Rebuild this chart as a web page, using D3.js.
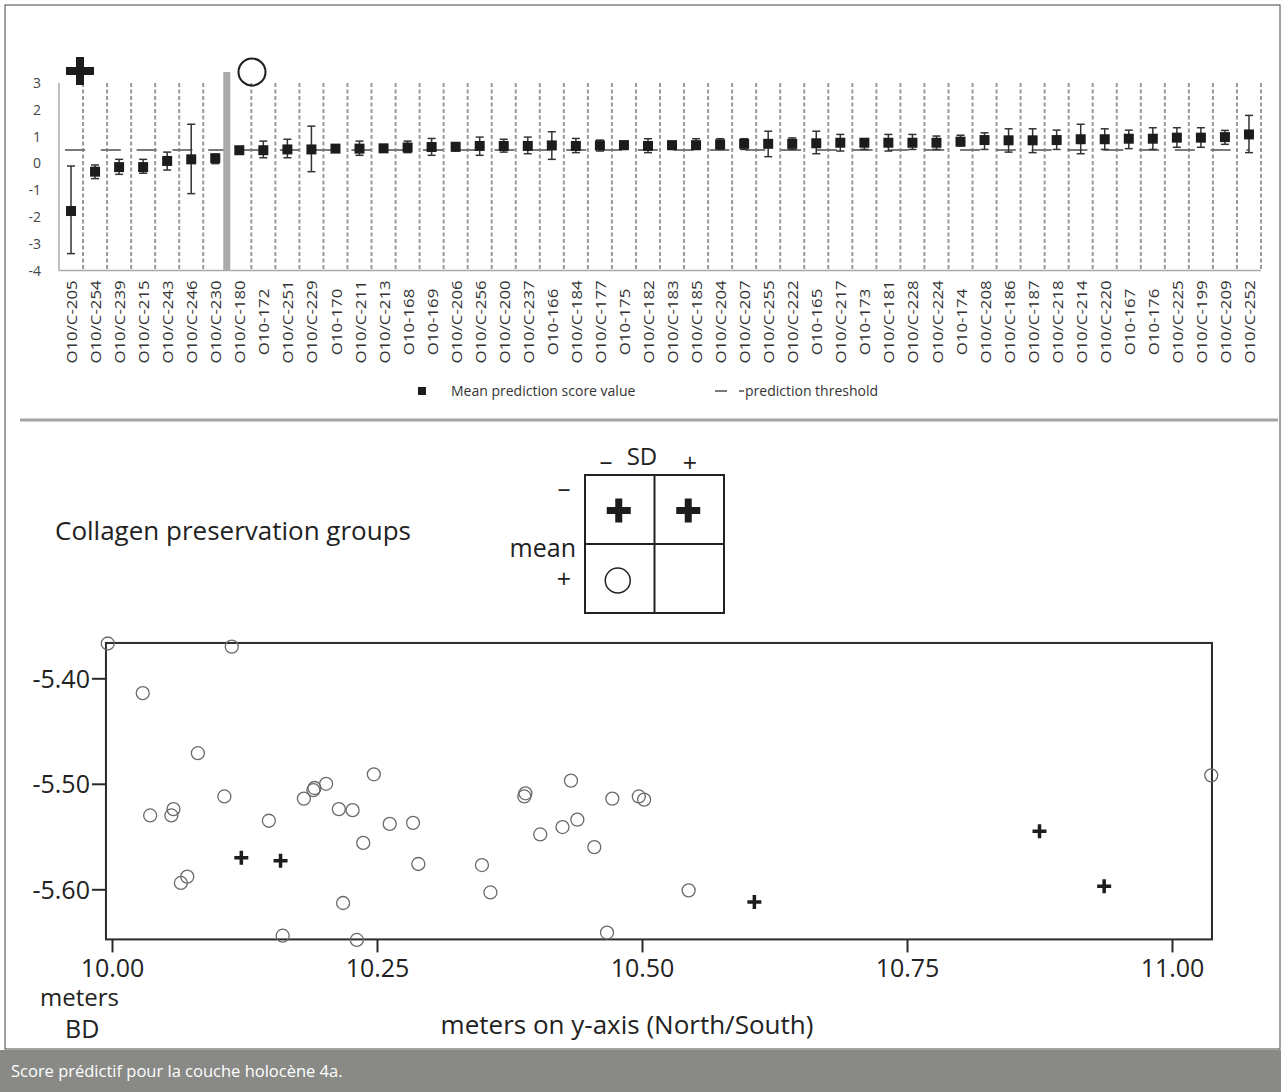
<!DOCTYPE html>
<html>
<head>
<meta charset="utf-8">
<script src="https://cdn.jsdelivr.net/npm/d3@7"></script>
<style>
  body { margin: 0; background: #fff; }
  svg { display: block; }
  text { font-family: "Open Sans", sans-serif; }
</style>
</head>
<body>
<svg width="1281" height="1092"></svg>
<script>
// ---- top chart: prediction score per sample ----
var samples = ["O10/C-205", "O10/C-254", "O10/C-239", "O10/C-215", "O10/C-243", "O10/C-246", "O10/C-230",
    "O10/C-180", "O10-172", "O10/C-251", "O10/C-229", "O10-170", "O10/C-211", "O10/C-213", "O10-168",
    "O10-169", "O10/C-206", "O10/C-256", "O10/C-200", "O10/C-237", "O10-166", "O10/C-184", "O10/C-177",
    "O10-175", "O10/C-182", "O10/C-183", "O10/C-185", "O10/C-204", "O10/C-207", "O10/C-255", "O10/C-222",
    "O10-165", "O10/C-217", "O10-173", "O10/C-181", "O10/C-228", "O10/C-224", "O10-174", "O10/C-208",
    "O10/C-186", "O10/C-187", "O10/C-218", "O10/C-214", "O10/C-220", "O10-167", "O10-176", "O10/C-225",
    "O10/C-199", "O10/C-209", "O10/C-252"];
var meanScore = [-1.78, -0.31, -0.14, -0.14, 0.09, 0.15, 0.19, 0.49, 0.49, 0.52, 0.52, 0.55, 0.55, 0.56, 0.59,
    0.61, 0.62, 0.65, 0.65, 0.65, 0.67, 0.65, 0.67, 0.68, 0.65, 0.68, 0.68, 0.71, 0.73, 0.73, 0.73,
    0.75, 0.77, 0.77, 0.77, 0.77, 0.77, 0.81, 0.87, 0.86, 0.86, 0.87, 0.90, 0.90, 0.92, 0.92, 0.96,
    0.96, 0.98, 1.08];
var sdLow = [-3.37, -0.57, -0.41, -0.37, -0.25, -1.13, -0.01, 0.42, 0.21, 0.21, -0.31, 0.47, 0.30, 0.42, 0.40,
    0.30, 0.46, 0.30, 0.42, 0.36, 0.15, 0.40, 0.46, 0.52, 0.40, 0.52, 0.52, 0.52, 0.52, 0.25, 0.52,
    0.36, 0.46, 0.52, 0.46, 0.52, 0.52, 0.65, 0.52, 0.42, 0.40, 0.52, 0.36, 0.52, 0.55, 0.52, 0.60,
    0.60, 0.71, 0.40];
var sdHigh = [-0.10, -0.06, 0.15, 0.15, 0.42, 1.46, 0.34, 0.57, 0.83, 0.90, 1.39, 0.63, 0.83, 0.70, 0.83,
    0.93, 0.72, 0.98, 0.90, 0.98, 1.18, 0.93, 0.87, 0.83, 0.92, 0.80, 0.92, 0.92, 0.92, 1.20, 0.95,
    1.20, 1.08, 0.92, 1.08, 1.08, 1.02, 1.05, 1.14, 1.29, 1.29, 1.24, 1.46, 1.29, 1.24, 1.33, 1.33,
    1.33, 1.23, 1.79];
var threshold = 0.5;
var scoreTicks = [3, 2, 1, 0, -1, -2, -3, -4];
var poorCount = 7; // samples left of the grey separator

// ---- bottom chart: positions, meters BD vs meters on y-axis ----
var goodNS = [9.996, 10.113, 10.029, 10.081, 10.036, 10.058, 10.056, 10.106, 10.148, 10.071, 10.065, 10.181,
    10.190, 10.191, 10.202, 10.247, 10.214, 10.227, 10.262, 10.284, 10.237, 10.289, 10.218, 10.349,
    10.357, 10.389, 10.390, 10.433, 10.404, 10.425, 10.439, 10.455, 10.472, 10.161, 10.231, 10.467,
    10.497, 10.502, 10.544, 11.037];
var goodBD = [-5.367, -5.370, -5.414, -5.471, -5.530, -5.524, -5.530, -5.512, -5.535, -5.588, -5.594, -5.514,
    -5.506, -5.504, -5.500, -5.491, -5.524, -5.525, -5.538, -5.537, -5.556, -5.576, -5.613, -5.577,
    -5.603, -5.512, -5.509, -5.497, -5.548, -5.541, -5.534, -5.560, -5.514, -5.644, -5.648, -5.641,
    -5.512, -5.515, -5.601, -5.492];
var poorNS = [10.122, 10.159, 10.606, 10.875, 10.936];
var poorBD = [-5.570, -5.573, -5.612, -5.545, -5.597];
var nsTicks = [10, 10.25, 10.5, 10.75, 11];
var bdTicks = [-5.4, -5.5, -5.6];

var svg = d3.select("svg");

// frame + caption
svg.append("rect").attr("x", 5).attr("y", 5).attr("width", 1275).attr("height", 1044)
    .attr("fill", "none").attr("stroke", "#444").attr("stroke-width", 1);
svg.append("rect").attr("x", 0).attr("y", 1050).attr("width", 1281).attr("height", 42).attr("fill", "#898986");
svg.append("text").attr("x", 11).attr("y", 1077).attr("fill", "#fff").attr("font-size", 16.5)
    .text("Score prédictif pour la couche holocène 4a.");

drawScores();
drawGroups();
drawPositions();

function drawScores() {
    var g = svg.append("g");
    var x = d3.scaleBand().domain(samples).range([59, 1261]);
    var y = d3.scaleLinear().domain([-4, 3]).range([270.5, 83]);
    var cx = function (d) { return x(d) + x.bandwidth() / 2; };

    // dashed separators between samples
    g.selectAll("line.sep").data(samples).enter().append("line")
        .attr("class", "sep")
        .attr("x1", d => x(d) + x.bandwidth()).attr("x2", d => x(d) + x.bandwidth())
        .attr("y1", y(3)).attr("y2", y(-4))
        .attr("stroke", "#9a9a9a").attr("stroke-width", 2).attr("stroke-dasharray", "4,2.5");

    // axes lines
    g.append("line").attr("x1", 59).attr("x2", 59).attr("y1", y(3)).attr("y2", y(-4))
        .attr("stroke", "#aaa").attr("stroke-width", 1.5);
    g.append("line").attr("x1", 59).attr("x2", 1261).attr("y1", y(-4)).attr("y2", y(-4))
        .attr("stroke", "#aaa").attr("stroke-width", 1.5);

    g.selectAll("text.ytick").data(scoreTicks).enter().append("text")
        .attr("class", "ytick")
        .attr("x", 41).attr("y", d => y(d)).attr("dy", "0.36em")
        .attr("text-anchor", "end").attr("font-size", 14).attr("fill", "#444")
        .text(d => d);

    // threshold
    g.append("line")
        .attr("x1", cx(samples[0]) - 6).attr("x2", cx(samples[samples.length - 1]))
        .attr("y1", y(threshold)).attr("y2", y(threshold))
        .attr("stroke", "#7a7a7a").attr("stroke-width", 2).attr("stroke-dasharray", "20,15.8");

    // grey group separator
    var sepX = x(samples[poorCount]);
    g.append("rect").attr("x", sepX - 4).attr("y", 72).attr("width", 7).attr("height", y(-4) - 72)
        .attr("fill", "#aaa");

    // error bars
    var bars = g.selectAll("g.bar").data(samples).enter().append("g").attr("class", "bar");
    bars.append("line")
        .attr("x1", cx).attr("x2", cx)
        .attr("y1", (d, i) => y(sdLow[i])).attr("y2", (d, i) => y(sdHigh[i]))
        .attr("stroke", "#333").attr("stroke-width", 1.5);
    bars.append("line")
        .attr("x1", d => cx(d) - 4).attr("x2", d => cx(d) + 4)
        .attr("y1", (d, i) => y(sdLow[i])).attr("y2", (d, i) => y(sdLow[i]))
        .attr("stroke", "#333").attr("stroke-width", 1.5);
    bars.append("line")
        .attr("x1", d => cx(d) - 4).attr("x2", d => cx(d) + 4)
        .attr("y1", (d, i) => y(sdHigh[i])).attr("y2", (d, i) => y(sdHigh[i]))
        .attr("stroke", "#333").attr("stroke-width", 1.5);
    bars.append("rect")
        .attr("x", d => cx(d) - 5).attr("y", (d, i) => y(meanScore[i]) - 5)
        .attr("width", 10).attr("height", 10).attr("fill", "#1c1c1c");

    // group symbols above
    g.append("path").attr("d", "M-14,0H14M0,-14V14")
        .attr("transform", "translate(80,71)")
        .attr("stroke", "#1c1c1c").attr("stroke-width", 8);
    g.append("circle").attr("cx", 252).attr("cy", 72).attr("r", 13.5)
        .attr("fill", "none").attr("stroke", "#1c1c1c").attr("stroke-width", 2);

    // sample labels
    g.selectAll("text.lab").data(samples).enter().append("text")
        .attr("class", "lab")
        .attr("transform", d => "translate(" + (cx(d) + 1) + ",322) rotate(-90) scale(1.2,1)")
        .attr("text-anchor", "middle").attr("dy", "0.36em")
        .attr("font-size", 14).attr("fill", "#333")
        .text(d => d);

    // legend
    g.append("rect").attr("x", 418).attr("y", 387).attr("width", 8).attr("height", 8).attr("fill", "#1c1c1c");
    g.append("text").attr("x", 451).attr("y", 396).attr("font-size", 14).attr("fill", "#333")
        .text("Mean prediction score value");
    g.append("line").attr("x1", 715).attr("x2", 744).attr("y1", 391).attr("y2", 391)
        .attr("stroke", "#7a7a7a").attr("stroke-width", 2).attr("stroke-dasharray", "12,12");
    g.append("text").attr("x", 745).attr("y", 396).attr("font-size", 14).attr("fill", "#333")
        .text("prediction threshold");

    svg.append("line").attr("x1", 20).attr("x2", 1278).attr("y1", 420).attr("y2", 420)
        .attr("stroke", "#a3a3a3").attr("stroke-width", 3);
}

function drawGroups() {
    var g = svg.append("g");
    g.append("text").attr("x", 55).attr("y", 540).attr("font-size", 26).attr("fill", "#222")
        .text("Collagen preservation groups");

    var col = d3.scaleBand().domain(["-", "+"]).range([585, 724]);
    var row = d3.scaleBand().domain(["-", "+"]).range([475, 613]);

    g.append("rect").attr("x", 585).attr("y", 475).attr("width", 139).attr("height", 138)
        .attr("fill", "none").attr("stroke", "#222").attr("stroke-width", 2);
    g.append("line").attr("x1", col("+")).attr("x2", col("+")).attr("y1", 475).attr("y2", 613)
        .attr("stroke", "#222").attr("stroke-width", 2);
    g.append("line").attr("x1", 585).attr("x2", 724).attr("y1", row("+")).attr("y2", row("+"))
        .attr("stroke", "#222").attr("stroke-width", 2);

    g.append("text").attr("x", 642).attr("y", 465).attr("text-anchor", "middle")
        .attr("font-size", 24).attr("fill", "#222").text("SD");
    g.append("text").attr("x", 606).attr("y", 470).attr("text-anchor", "middle")
        .attr("font-size", 26).attr("fill", "#222").text("–");
    g.append("text").attr("x", 690).attr("y", 472).attr("text-anchor", "middle")
        .attr("font-size", 25).attr("fill", "#222").text("+");
    g.append("text").attr("x", 564).attr("y", 497).attr("text-anchor", "middle")
        .attr("font-size", 26).attr("fill", "#222").text("–");
    g.append("text").attr("x", 576).attr("y", 557).attr("text-anchor", "end")
        .attr("font-size", 25).attr("fill", "#222").text("mean");
    g.append("text").attr("x", 564).attr("y", 588).attr("text-anchor", "middle")
        .attr("font-size", 25).attr("fill", "#222").text("+");

    // cells: mean-/SD- and mean-/SD+ poor, mean+/SD- good
    [["-", "-"], ["-", "+"]].forEach(function (c) {
        g.append("path").attr("d", "M-12,0H12M0,-12V12")
            .attr("transform", "translate(" + (col(c[1]) + col.bandwidth() / 2 - 1) + "," + (row(c[0]) + row.bandwidth() / 2 + 1) + ")")
            .attr("stroke", "#1c1c1c").attr("stroke-width", 7);
    });
    g.append("circle").attr("cx", col("-") + col.bandwidth() / 2 - 2).attr("cy", row("+") + row.bandwidth() / 2 + 2)
        .attr("r", 12.5).attr("fill", "none").attr("stroke", "#222").attr("stroke-width", 1.5);
}

function drawPositions() {
    var g = svg.append("g");
    var x = d3.scaleLinear().domain([10, 11]).range([112, 1172]);
    var y = d3.scaleLinear().domain([-5.6, -5.4]).range([889.3, 678.3]);
    var left = x(9.9943), right = x(11.0377), top = y(-5.3665), bottom = y(-5.6475);

    g.append("rect").attr("x", left).attr("y", top).attr("width", right - left).attr("height", bottom - top)
        .attr("fill", "none").attr("stroke", "#2a2a2a").attr("stroke-width", 2);

    var ax = g.append("g").attr("transform", "translate(0," + bottom + ")")
        .call(d3.axisBottom(x).tickValues(nsTicks).tickSize(13).tickPadding(7).tickFormat(d => d.toFixed(2)));
    var ay = g.append("g").attr("transform", "translate(" + left + ",0)")
        .call(d3.axisLeft(y).tickValues(bdTicks).tickSize(14).tickPadding(2).tickFormat(d => d.toFixed(2)));
    [ax, ay].forEach(function (a) {
        a.select(".domain").remove();
        a.selectAll(".tick line").attr("stroke", "#2a2a2a").attr("stroke-width", 2);
        a.selectAll(".tick text").attr("font-family", "'Liberation Sans', Arial, sans-serif")
            .attr("font-size", 25).attr("fill", "#222");
    });
    ay.selectAll(".tick text").attr("dy", "0.36em");

    g.selectAll("circle.good").data(goodNS).enter().append("circle")
        .attr("class", "good")
        .attr("cx", d => x(d)).attr("cy", (d, i) => y(goodBD[i]))
        .attr("r", 6.5).attr("fill", "none").attr("stroke", "#6a6a6a").attr("stroke-width", 1.3);

    g.selectAll("path.poor").data(poorNS).enter().append("path")
        .attr("class", "poor")
        .attr("d", "M-7,0H7M0,-7V7")
        .attr("transform", (d, i) => "translate(" + x(d) + "," + y(poorBD[i]) + ")")
        .attr("stroke", "#1c1c1c").attr("stroke-width", 3.5);

    g.append("text").attr("x", 40).attr("y", 1006).attr("font-size", 24).attr("fill", "#222").text("meters");
    g.append("text").attr("x", 65).attr("y", 1038).attr("font-size", 25).attr("fill", "#222").text("BD");
    g.append("text").attr("x", 627).attr("y", 1034).attr("text-anchor", "middle")
        .attr("font-size", 26).attr("fill", "#222").text("meters on y-axis (North/South)");
}
</script>
</body>
</html>
